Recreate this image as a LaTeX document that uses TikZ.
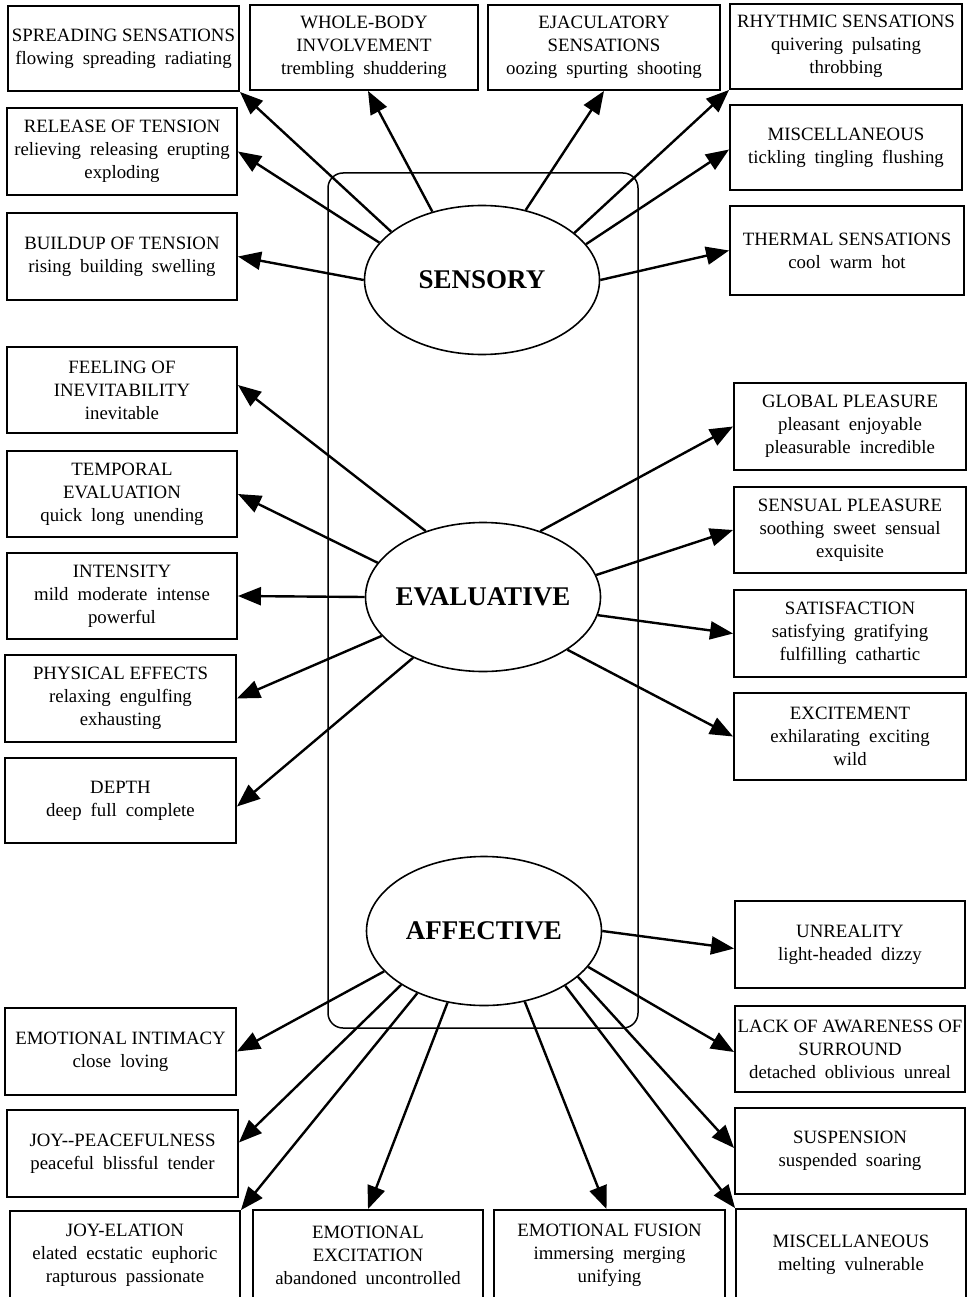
\documentclass[tikz,border=0pt]{standalone}
\usepackage{fontspec}
\setmainfont{Liberation Serif}
\usetikzlibrary{arrows.meta,shapes.geometric}
\newcommand{\ws}{\hspace{0.48em}}
\newcommand{\mkbox}[6]{\node[boxst, minimum width={(#4)-(#2)}, minimum height={(#5)-(#3)}] (#1) at ({((#2)+(#4))/2},{((#3)+(#5))/2}) {#6};}
\begin{document}
\begin{tikzpicture}[x=1pt,y=-1pt,
  boxst/.style={draw, line width=1.9pt, inner sep=0pt, align=center, font=\fontsize{18.8}{23}\selectfont},
  ell/.style={draw, ellipse, line width=1.6pt, inner sep=0pt, minimum width=235pt, minimum height=149pt},
  elltext/.style={inner sep=0pt, font=\fontsize{27}{30}\selectfont\bfseries},
  frame/.style={draw, line width=1.5pt, rounded corners=15pt, inner sep=0pt},
  arr/.style={line width=2.4pt, -{Triangle[length=23pt,width=18pt]}}]
\useasboundingbox (0,0) rectangle (967,1297);
% container
\node[frame, minimum width=310pt, minimum height=855pt] (cont) at (483,600.5) {};
% ellipses
\node[ell] (sens) at (482,280) {};
\node[elltext] (sensT) at (sens.center) {SENSORY};
\node[ell] (eval) at (483,597) {};
\node[elltext] (evalT) at (eval.center) {EVALUATIVE};
\node[ell] (aff) at (484,931) {};
\node[elltext] (affT) at (aff.center) {AFFECTIVE};
% sensory boxes
\mkbox{spr}{8}{6}{239}{91}{SPREADING SENSATIONS\\flowing\ws spreading\ws radiating}
\mkbox{wbi}{250}{5}{478}{90}{WHOLE-BODY\\INVOLVEMENT\\trembling\ws shuddering}
\mkbox{rel}{7}{108}{237}{195}{RELEASE OF TENSION\\relieving\ws releasing\ws erupting\\exploding}
\mkbox{bui}{7}{213}{237}{300}{BUILDUP OF TENSION\\rising\ws building\ws swelling}
\mkbox{eja}{488}{5}{720}{90}{EJACULATORY\\SENSATIONS\\oozing\ws spurting\ws shooting}
\mkbox{rhy}{730}{4}{962}{89}{RHYTHMIC SENSATIONS\\quivering\ws pulsating\\throbbing}
\mkbox{mis}{730}{105}{962}{190}{MISCELLANEOUS\\tickling\ws tingling\ws flushing}
\mkbox{the}{730}{206}{964}{295}{THERMAL SENSATIONS\\cool\ws warm\ws hot}
% evaluative boxes
\mkbox{fee}{7}{347}{237}{433}{FEELING OF\\INEVITABILITY\\inevitable}
\mkbox{tem}{7}{451}{237}{537}{TEMPORAL\\EVALUATION\\quick\ws long\ws unending}
\mkbox{int}{7}{553}{237}{639}{INTENSITY\\mild\ws moderate\ws intense\\powerful}
\mkbox{phy}{5}{655}{236}{742}{PHYSICAL EFFECTS\\relaxing\ws engulfing\\exhausting}
\mkbox{dep}{5}{758}{236}{843}{DEPTH\\deep\ws full\ws complete}
\mkbox{glo}{734}{383}{966}{470}{GLOBAL PLEASURE\\pleasant\ws enjoyable\\pleasurable\ws incredible}
\mkbox{sen}{734}{487}{966}{573}{SENSUAL PLEASURE\\soothing\ws sweet\ws sensual\\exquisite}
\mkbox{sat}{734}{590}{966}{677}{SATISFACTION\\satisfying\ws gratifying\\fulfilling\ws cathartic}
\mkbox{exc}{734}{693}{966}{780}{EXCITEMENT\\exhilarating\ws exciting\\wild}
% affective boxes
\mkbox{emi}{5}{1008}{236}{1095}{EMOTIONAL INTIMACY\\close\ws loving}
\mkbox{jpe}{7}{1110}{238}{1197}{JOY-{}-PEACEFULNESS\\peaceful\ws blissful\ws tender}
\mkbox{jel}{10}{1211}{240}{1300}{JOY-ELATION\\elated\ws ecstatic\ws euphoric\\rapturous\ws passionate}
\mkbox{eex}{253}{1210}{483}{1300}{EMOTIONAL\\EXCITATION\\abandoned\ws uncontrolled}
\mkbox{efu}{494}{1210}{725}{1300}{EMOTIONAL FUSION\\immersing\ws merging\\unifying}
\mkbox{amis}{736}{1209}{966}{1300}{MISCELLANEOUS\\melting\ws vulnerable}
\mkbox{unr}{735}{901}{965}{988}{UNREALITY\\light-headed\ws dizzy}
\mkbox{lac}{735}{1006}{965}{1092}{LACK OF AWARENESS OF\\SURROUND\\detached\ws oblivious\ws unreal}
\mkbox{sus}{735}{1108}{965}{1194}{SUSPENSION\\suspended\ws soaring}
% sensory arrows
\draw[arr] (sens.152) -- (spr.south east);
\draw[arr] (sens.126) -- ([xshift=4pt]wbi.south);
\draw[arr] (sens.160) -- (rel.east);
\draw[arr] (sens.180) -- (bui.east);
\draw[arr] (sens.58) -- (eja.south);
\draw[arr] (sens.27) -- (rhy.south west);
\draw[arr] (sens.19) -- ([yshift=-2pt]mis.west);
\draw[arr] (sens.0) -- (the.west);
% evaluative arrows
\draw[arr] (eval.131) -- ([yshift=5pt]fee.east);
\draw[arr] (eval.162) -- (tem.east);
\draw[arr] (eval.180) -- (int.east);
\draw[arr] (eval.201) -- (phy.east);
\draw[arr] (eval.221) -- ([yshift=-6pt]dep.east);
\draw[arr] (eval.49) -- (glo.west);
\draw[arr] (eval.11) -- (sen.west);
\draw[arr] (eval.351) -- (sat.west);
\draw[arr] (eval.328) -- (exc.west);
% affective arrows
\draw[arr] (aff.202) -- (emi.east);
\draw[arr] (aff.213) -- ([yshift=11pt]jpe.east);
\draw[arr] (aff.223) -- (jel.north east);
\draw[arr] (aff.243) -- (eex.north);
\draw[arr] (aff.0) -- ([yshift=-4pt]unr.west);
\draw[arr] (aff.341) -- ([yshift=-3pt]lac.west);
\draw[arr] (aff.334) -- ([yshift=3pt]sus.west);
\draw[arr] (aff.326) -- (amis.north west);
\draw[arr] (aff.300) -- ([xshift=-3pt]efu.north);
\end{tikzpicture}
\end{document}
